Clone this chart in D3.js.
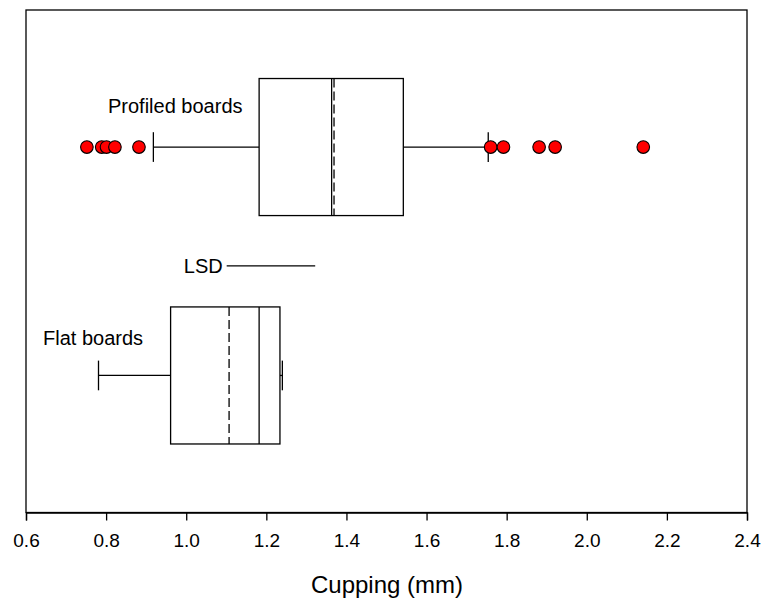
<!DOCTYPE html>
<html><head><meta charset="utf-8">
<script src="https://cdn.jsdelivr.net/npm/d3@7"></script>
<style>body{margin:0;background:#fff}svg{display:block}text{font-family:"Liberation Sans",Arial,sans-serif;fill:#000}</style>
</head><body><svg id="c" width="763" height="598"></svg>
<script>
const groups = ["Flat boards", "Profiled boards"];
const q1 = [0.961, 1.182];
const median = [1.182, 1.363];
const mean = [1.107, 1.369];
const q3 = [1.234, 1.542];
const whiskerLow = [0.781, 0.918];
const whiskerHigh = [1.240, 1.754];
const outliers = [[], [0.752, 0.789, 0.801, 0.822, 0.882, 1.760, 1.792, 1.881, 1.921, 2.141]];
const lsd = [1.101, 1.322];
const xTicks = [0.6, 0.8, 1.0, 1.2, 1.4, 1.6, 1.8, 2.0, 2.2, 2.4];

const svg = d3.select("#c");
const L = 26, R = 747, T = 10, B = 512.5;
const x = d3.scaleLinear().domain([0.6, 2.4]).range([L, R]);
const y = d3.scaleLinear().domain([0.4, 2.6]).range([B, T]);
const hw = 0.3, capHalf = 0.065;

// frame
svg.append("rect").attr("x", L).attr("y", T).attr("width", R - L).attr("height", B - T)
  .attr("fill", "none").attr("stroke", "#000").attr("stroke-width", 1.3);

// axis
const ax = svg.append("g").attr("transform", `translate(0,${B})`)
  .call(d3.axisBottom(x).tickValues(xTicks).tickFormat(d3.format(".1f")).tickSize(8).tickPadding(13));
ax.select(".domain").attr("stroke", "#000").attr("stroke-width", 1.3);
ax.selectAll(".tick line").attr("stroke", "#000").attr("stroke-width", 1.3);
ax.selectAll(".tick text").style("font-size", "19px").style("font-family", '"Liberation Sans",Arial,sans-serif');

svg.append("text").attr("x", 387).attr("y", 593).attr("text-anchor", "middle")
  .style("font-size", "24px").text("Cupping (mm)");

groups.forEach((g, i) => {
  const c = i + 1;
  const gg = svg.append("g").attr("stroke", "#000").attr("stroke-width", 1.3).attr("fill", "none");
  // whiskers
  gg.append("line").attr("x1", x(whiskerLow[i])).attr("x2", x(q1[i])).attr("y1", y(c)).attr("y2", y(c));
  gg.append("line").attr("x1", x(q3[i])).attr("x2", x(whiskerHigh[i])).attr("y1", y(c)).attr("y2", y(c));
  gg.append("line").attr("x1", x(whiskerLow[i])).attr("x2", x(whiskerLow[i])).attr("y1", y(c + capHalf)).attr("y2", y(c - capHalf));
  gg.append("line").attr("x1", x(whiskerHigh[i])).attr("x2", x(whiskerHigh[i])).attr("y1", y(c + capHalf)).attr("y2", y(c - capHalf));
  // box
  gg.append("rect").attr("x", x(q1[i])).attr("y", y(c + hw)).attr("width", x(q3[i]) - x(q1[i]))
    .attr("height", y(c - hw) - y(c + hw)).attr("fill", "#fff");
  gg.append("line").attr("x1", x(median[i])).attr("x2", x(median[i])).attr("y1", y(c + hw)).attr("y2", y(c - hw));
  gg.append("line").attr("x1", x(mean[i])).attr("x2", x(mean[i])).attr("y1", y(c + hw)).attr("y2", y(c - hw))
    .attr("stroke-dasharray", "9,4");
  // outliers
  svg.append("g").selectAll("circle").data(outliers[i]).join("circle")
    .attr("cx", d => x(d)).attr("cy", y(c)).attr("r", 6.3)
    .attr("fill", "#ff0000").attr("stroke", "#000").attr("stroke-width", 1.1);
});

svg.append("text").attr("x", 108).attr("y", 113).style("font-size", "20px").text(groups[1]);
svg.append("text").attr("x", 43).attr("y", 345).style("font-size", "20px").text(groups[0]);

// LSD
svg.append("line").attr("x1", x(lsd[0])).attr("x2", x(lsd[1])).attr("y1", y(1.48)).attr("y2", y(1.48))
  .attr("stroke", "#000").attr("stroke-width", 1.3);
svg.append("text").attr("x", x(lsd[0]) - 4).attr("y", y(1.48) + 7).attr("text-anchor", "end")
  .style("font-size", "20px").text("LSD");
</script></body></html>
